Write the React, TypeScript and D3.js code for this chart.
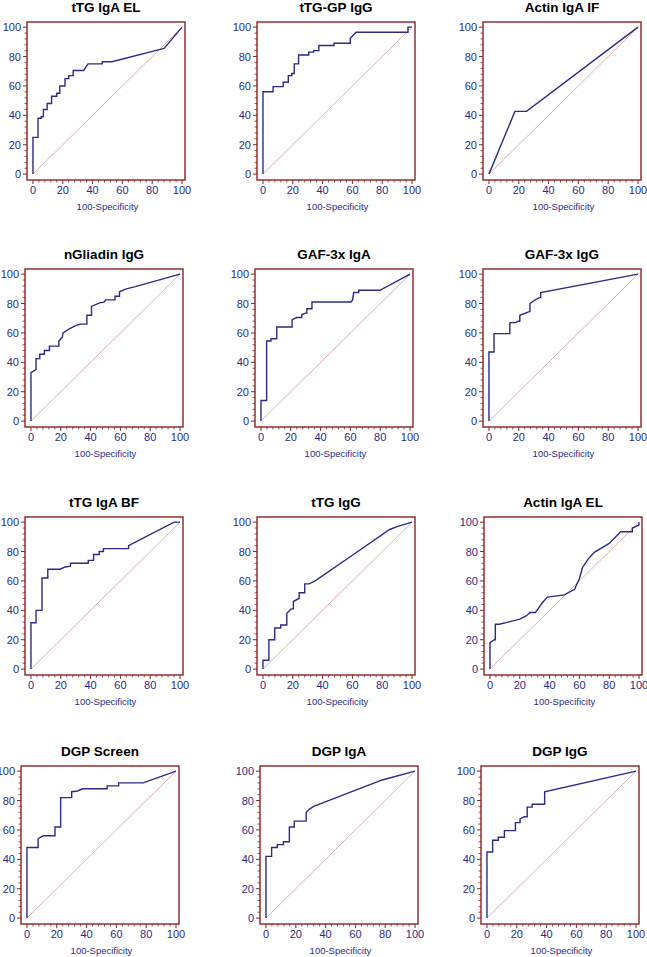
import React from "react";
import * as d3 from "d3";

type Pt = [number, number];

const titles = [
  "tTG IgA EL", "tTG-GP IgG", "Actin IgA IF",
  "nGliadin IgG", "GAF-3x IgA", "GAF-3x IgG",
  "tTG IgA BF", "tTG IgG", "Actin IgA EL",
  "DGP Screen", "DGP IgA", "DGP IgG",
];

const tTGIgAEL: Pt[] = [[0,0],[0,25],[3.4,25],[3.4,38],[5.5,38],[5.5,39],[7,39],[7,44],[9.5,44],[9.5,48],[12.5,48],[12.5,53],[16,53],[16,55],[18,55],[18,60],[21.5,60],[21.5,65],[24,65],[24,67],[27,67],[27,70.5],[34,70.5],[37,75],[46.5,75],[46.5,76.5],[53,76.5],[86,85],[88,85.5],[100,100]];
const tTGGPIgG: Pt[] = [[0,0],[0,56],[6.8,56],[6.8,59.5],[13.6,59.5],[13.6,62.5],[17,62.5],[17,67],[19.3,67],[19.3,68.5],[21,68.5],[21,75],[23.9,75],[23.9,81],[30.7,81],[30.7,83],[34,83],[34,84],[37.5,84],[37.5,87.5],[47.7,87.5],[47.7,89],[58.6,89],[58.6,92.5],[62.5,96.5],[97.3,96.5],[97.3,100],[100,100]];
const actinIgAIF: Pt[] = [[0,0],[17.4,42.7],[25.2,42.7],[100,100]];
const nGliadinIgG: Pt[] = [[0,0],[0,33],[3.4,35],[3.4,42.5],[5.9,42.5],[5.9,45.5],[9,45.5],[9,48],[12.4,48],[12.4,51],[18.7,51],[18.7,54.5],[21,57],[21.5,60],[26,63],[30,65],[33,66],[37.5,66],[37.5,72],[40.6,72],[40.6,78],[46,80.5],[49,81],[50,82.5],[56.4,82.5],[56.4,85],[59.4,85],[59.4,88],[64,90],[68,91],[70,91.5],[100,100]];
const gaf3xIgA: Pt[] = [[0,0],[0,14],[3.8,14],[3.8,54.5],[6.7,54.5],[6.7,56],[10.6,56],[10.6,64],[20.9,64],[20.9,69],[24,70.5],[27.4,70.5],[27.4,72.5],[30,73.5],[30.8,73.5],[30.8,76.5],[34.2,76.5],[34.2,81],[60.4,81],[61.5,82.5],[62.2,87.5],[65.6,87.5],[65.6,89],[79.8,89],[100,100]];
const gaf3xIgG: Pt[] = [[0,0],[0,47],[3.4,47],[3.4,59.5],[14,59.5],[14,67],[18,67],[19.5,68],[20.7,68],[20.7,72],[27,74.5],[27.5,74.5],[27.5,80],[31,82.5],[34,84],[34.7,84],[34.7,87.5],[100,100]];
const tTGIgABF: Pt[] = [[0,0],[0,31.5],[3.4,31.5],[3.4,40],[7.4,40],[7.4,62],[11.3,62],[11.3,68],[19.4,68],[23,69.5],[26.5,70],[26.5,72],[38.4,72],[38.4,74],[42,74],[42,78],[45.8,78],[45.8,80],[48.6,80],[48.6,82],[65.5,82],[65.5,84],[96,100],[100,100]];
const tTGIgG: Pt[] = [[0,0],[0,6],[4,6],[4,20],[7.9,20],[7.9,28],[11.9,28],[11.9,30],[16,30],[16,38],[19,41],[20.4,41],[20.4,46],[24,48],[24.3,48],[24.3,52],[28,52],[28,58],[31,58],[33,59],[35,60],[60,77.5],[85,95],[90,97],[100,100]];
const actinIgAEL: Pt[] = [[0,0],[0,18],[3,20],[3.6,20],[3.6,30.5],[6.3,30.5],[20,34],[24,36],[26.5,38],[26.5,38.5],[30.5,38.5],[35,45],[38.5,49],[50,50.5],[57,54.5],[57.5,56],[60,61.5],[62,69],[66,75],[70,79.5],[80,85.5],[87.7,93.5],[95.5,93.5],[95.5,96],[100,98],[100,100]];
const dgpScreen: Pt[] = [[0,0],[0,48],[7.5,48],[7.5,54],[9,55],[11,56],[18.8,56],[18.8,62],[22.6,62],[22.6,82],[30,82],[30,86],[34,86.5],[37.3,88],[53.8,88],[53.8,90],[61.5,90],[61.5,92],[78,92],[100,100]];
const dgpIgA: Pt[] = [[0,0],[0,42],[3.8,42],[3.8,48],[7.6,48],[7.6,50],[11.7,50],[11.7,52],[15.7,52],[15.7,62],[19,62],[19,66],[27,66],[27,72],[29,74],[32,76],[78,94],[100,100]];
const dgpIgG: Pt[] = [[0,0],[0,45],[3.8,45],[3.8,53],[7.6,53],[7.6,55],[11.7,55],[11.7,59.5],[19.1,59.5],[19.1,65],[22.2,65],[22.2,67.5],[25,69],[27,69],[27,75.5],[30.3,75.5],[30.3,77.5],[38.7,77.5],[38.7,86],[100,100]];

const curves: Pt[][] = [
  tTGIgAEL, tTGGPIgG, actinIgAIF,
  nGliadinIgG, gaf3xIgA, gaf3xIgG,
  tTGIgABF, tTGIgG, actinIgAEL,
  dgpScreen, dgpIgA, dgpIgG,
];

const majorTicks = [0, 20, 40, 60, 80, 100];
const minorTicks = d3.range(0, 101, 4).filter((v) => v % 20 !== 0);
const xAxisLabel = "100-Specificity";

// layout
const frameLefts = [[27, 257, 483], [25, 255, 483], [25, 257, 484], [21, 260, 481]];
const frameTops = [22, 269, 517, 766];
const FW = 158;
const FH = 158;

const FRAME = "#8B2323";
const NAVY = "#2B2B86";
const DIAG = "#D2A8A8";
const FONT = "'Liberation Sans', Arial, sans-serif";

function Panel({ idx }: { idx: number }) {
  const r = Math.floor(idx / 3);
  const c = idx % 3;
  const left = frameLefts[r][c];
  const top = frameTops[r];
  const x = d3.scaleLinear().domain([-4, 102]).range([0, FW]);
  const y = d3.scaleLinear().domain([-4, 103.5]).range([FH, 0]);
  const line = d3.line<Pt>().x((d) => x(d[0])).y((d) => y(d[1]));
  return (
    <g transform={`translate(${left},${top})`}>
      <text x={FW / 2} y={-10} textAnchor="middle" fontFamily={FONT} fontWeight="bold" fontSize={13.5} fill="#000">
        {titles[idx]}
      </text>
      <line x1={x(0)} y1={y(0)} x2={x(100)} y2={y(100)} stroke={DIAG} strokeWidth={0.9} />
      <path d={line(curves[idx]) || ""} fill="none" stroke={NAVY} strokeWidth={1.4} strokeLinejoin="miter" />
      <rect x={0} y={0} width={FW} height={FH} fill="none" stroke={FRAME} strokeWidth={1.4} />
      {majorTicks.map((t) => (
        <g key={"mx" + t}>
          <line x1={x(t)} x2={x(t)} y1={FH} y2={FH + 4} stroke={FRAME} strokeWidth={1} />
          <text x={x(t)} y={FH + 14} textAnchor="middle" fontFamily={FONT} fontSize={11} fill={NAVY}>{t}</text>
          <line x1={-4} x2={0} y1={y(t)} y2={y(t)} stroke={FRAME} strokeWidth={1} />
          <text x={-6} y={y(t) + 4} textAnchor="end" fontFamily={FONT} fontSize={11} fill={NAVY}>{t}</text>
        </g>
      ))}
      {minorTicks.map((t) => (
        <g key={"mn" + t}>
          <line x1={x(t)} x2={x(t)} y1={FH} y2={FH + 2.5} stroke={FRAME} strokeWidth={0.8} />
          <line x1={-2.5} x2={0} y1={y(t)} y2={y(t)} stroke={FRAME} strokeWidth={0.8} />
        </g>
      ))}
      <text x={x(50)} y={FH + 30} textAnchor="middle" fontFamily={FONT} fontSize={9.5} fill={NAVY}>
        {xAxisLabel}
      </text>
    </g>
  );
}

export default function App() {
  return (
    <svg width={647} height={957} style={{ position: "absolute", left: 0, top: 0, background: "#fff" }}>
      <rect width={647} height={957} fill="#fff" />
      {titles.map((_, i) => (
        <Panel key={i} idx={i} />
      ))}
    </svg>
  );
}
